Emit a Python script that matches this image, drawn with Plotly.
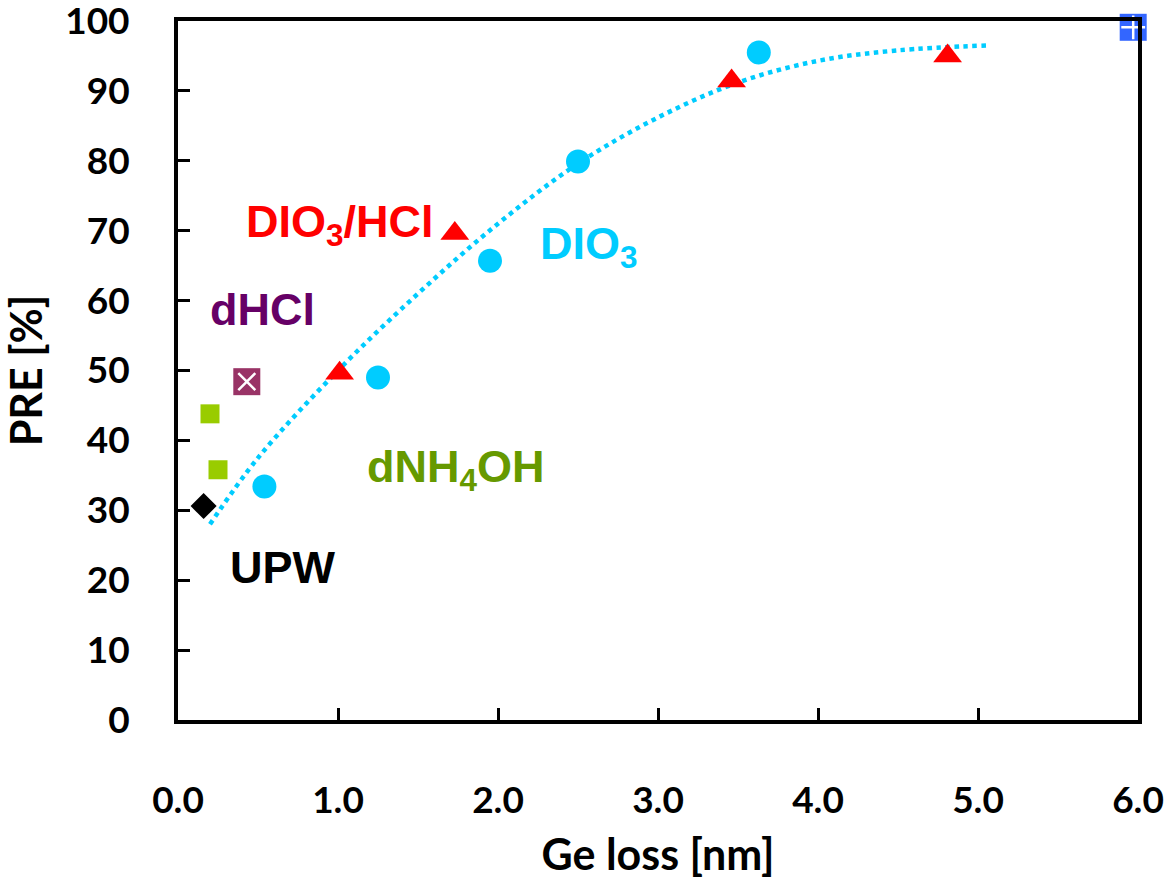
import plotly.graph_objects as go

# Data
dio3_x = [0.54, 1.25, 1.95, 2.50, 3.63]
dio3_y = [33.4, 49.0, 65.7, 79.9, 95.5]

dio3hcl_x = [1.01, 1.73, 3.46, 4.81]
dio3hcl_y = [49.6, 69.6, 91.4, 95.0]

dnh4oh_x = [0.20, 0.25]
dnh4oh_y = [43.8, 35.8]

dhcl_x = [0.43]
dhcl_y = [48.4]

upw_x = [0.16]
upw_y = [30.6]

other_x = [5.97]
other_y = [99.1]

trend_x = [0.2, 0.5, 1.0, 1.5, 2.0, 2.5, 3.0, 3.5, 4.0, 4.5, 5.05]
trend_y = [28.0, 37.5, 50.0, 61.0, 71.0, 79.6, 86.2, 91.2, 94.3, 95.8, 96.5]

x_ticks = [0, 1, 2, 3, 4, 5, 6]
x_tick_text = ["0.0", "1.0", "2.0", "3.0", "4.0", "5.0", "6.0"]
y_ticks = [0, 10, 20, 30, 40, 50, 60, 70, 80, 90, 100]

fig = go.Figure()

fig.add_trace(go.Scatter(x=trend_x, y=trend_y, mode="lines", line=dict(color="#00CCFF", width=4.5, dash="dot", shape="spline"),
                         hoverinfo="skip", showlegend=False))
fig.add_trace(go.Scatter(x=dio3_x, y=dio3_y, mode="markers", marker=dict(symbol="circle", size=24, color="#00CCFF"),
                         showlegend=False))
fig.add_trace(go.Scatter(x=dio3hcl_x, y=dio3hcl_y, mode="markers", marker=dict(symbol="triangle-up", size=25, color="#FF0000"),
                         showlegend=False))
fig.add_trace(go.Scatter(x=dnh4oh_x, y=dnh4oh_y, mode="markers", marker=dict(symbol="square", size=19, color="#99CC00"),
                         showlegend=False))
fig.add_trace(go.Scatter(x=dhcl_x, y=dhcl_y, mode="markers", marker=dict(symbol="square", size=27, color="#993366"),
                         showlegend=False))
fig.add_trace(go.Scatter(x=dhcl_x, y=dhcl_y, mode="markers", marker=dict(symbol="x-thin", size=17, color="white",
                         line=dict(color="white", width=2.5)), showlegend=False))
fig.add_trace(go.Scatter(x=upw_x, y=upw_y, mode="markers", marker=dict(symbol="diamond", size=20, color="#000000"),
                         showlegend=False))
fig.add_trace(go.Scatter(x=other_x, y=other_y, mode="markers", marker=dict(symbol="square", size=27, color="#3366FF"),
                         showlegend=False, cliponaxis=False))
fig.add_trace(go.Scatter(x=other_x, y=other_y, mode="markers", marker=dict(symbol="cross-thin", size=17, color="white",
                         line=dict(color="white", width=2.5)), showlegend=False, cliponaxis=False))

lab_font = "Liberation Sans, Arial, sans-serif"
annots = [
    dict(x=1.01, y=70.9, text="<b>DIO<sub>3</sub>/HCl</b>", color="#FF0000"),
    dict(x=2.57, y=67.8, text="<b>DIO<sub>3</sub></b>", color="#00CCFF"),
    dict(x=0.525, y=58.7, text="<b>dHCl</b>", color="#660066"),
    dict(x=1.74, y=35.9, text="<b>dNH<sub>4</sub>OH</b>", color="#669900"),
    dict(x=0.656, y=21.8, text="<b>UPW</b>", color="#000000"),
]
for a in annots:
    fig.add_annotation(x=a["x"], y=a["y"], text=a["text"], showarrow=False,
                       font=dict(family=lab_font, size=45, color=a["color"]), xanchor="center", yanchor="middle")

tick_font = dict(family="Lato, Open Sans, sans-serif", size=37, color="black", weight="bold")
title_font = dict(family="Lato, Open Sans, sans-serif", size=43, color="black", weight="bold")
fig.update_xaxes(range=[0, 6], tickvals=x_ticks, ticktext=x_tick_text, ticks="inside", ticklen=12, tickwidth=3,
                 tickcolor="black", showline=True, linewidth=4, linecolor="black", mirror=True, showgrid=False,
                 zeroline=False, tickfont=tick_font, ticklabelstandoff=45, ticklabeloverflow="allow",
                 automargin=False, title=dict(text="Ge loss [nm]", font=title_font, standoff=20))
fig.update_yaxes(range=[0, 100], tickvals=y_ticks, ticks="inside", ticklen=12, tickwidth=3,
                 tickcolor="black", showline=True, linewidth=4, linecolor="black", mirror=True, showgrid=False,
                 zeroline=False, tickfont=tick_font, ticklabelstandoff=37, ticklabeloverflow="allow",
                 automargin=False, title=dict(text="PRE [%]", font=title_font, standoff=16))

fig.update_layout(width=1170, height=880, margin=dict(l=178, r=32, t=21, b=160),
                  plot_bgcolor="white", paper_bgcolor="white")

fig.write_html("out.html")
